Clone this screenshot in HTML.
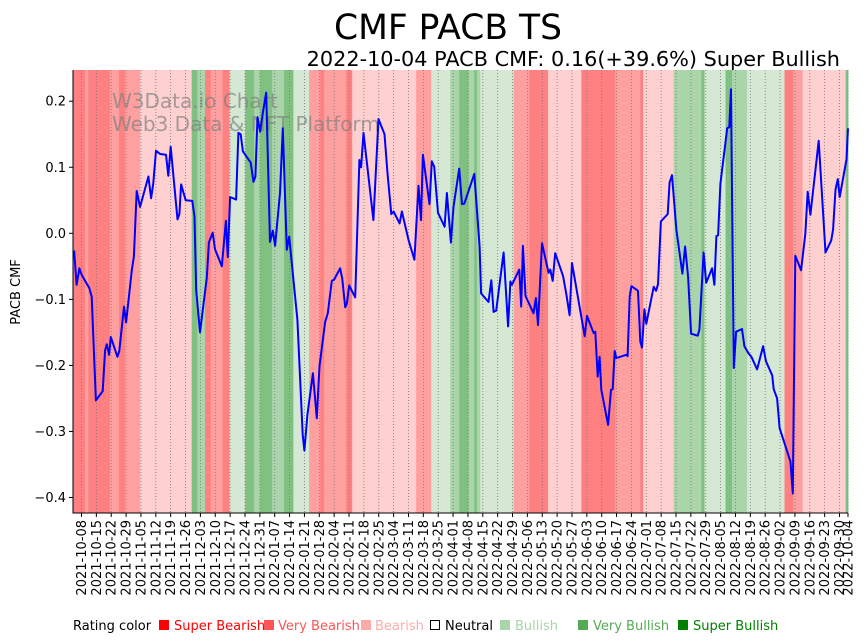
<!DOCTYPE html>
<html><head><meta charset="utf-8"><style>
body{margin:0;background:#fff;}
svg{display:block;font-family:"DejaVu Sans","Liberation Sans",sans-serif;}
</style></head><body>
<svg id="chart" width="867" height="641" viewBox="0 0 867 641">
<text x="448" y="39" font-size="34.5" text-anchor="middle">CMF PACB TS</text>
<text x="840" y="66" font-size="20.8" text-anchor="end">2022-10-04 PACB CMF: 0.16(+39.6%) Super Bullish</text>
<g id="bands"></g>
<g id="grid"></g>
<text x="112" y="108" font-size="20" fill="#808080" fill-opacity="0.7">W3Data.io Chart</text>
<text x="112" y="131" font-size="20" fill="#808080" fill-opacity="0.7">Web3 Data &amp; NFT Platform</text>
<path id="line" fill="none" stroke="#0000ff" stroke-width="2" stroke-linejoin="round"></path>
<g id="axes"></g>
<text transform="translate(20,292) rotate(-90)" font-size="13" text-anchor="middle">PACB CMF</text>
<g font-size="13">
<text x="73" y="630">Rating color</text>
<rect x="159" y="620" width="10" height="10" fill="#ff0000"/>
<text x="174" y="630" fill="#ff0000">Super Bearish</text>
<rect x="264" y="620" width="10" height="10" fill="#ff5555"/>
<text x="278" y="630" fill="#ff5555">Very Bearish</text>
<rect x="361" y="620" width="10" height="10" fill="#ffaaaa"/>
<text x="375" y="630" fill="#ffaaaa">Bearish</text>
<rect x="430.5" y="620.5" width="9" height="9" fill="#fff" stroke="#000"/>
<text x="445" y="630" fill="#000">Neutral</text>
<rect x="500" y="620" width="10" height="10" fill="#aad4aa"/>
<text x="515" y="630" fill="#aad4aa">Bullish</text>
<rect x="578" y="620" width="10" height="10" fill="#55aa55"/>
<text x="593" y="630" fill="#55aa55">Very Bullish</text>
<rect x="678" y="620" width="10" height="10" fill="#008000"/>
<text x="693" y="630" fill="#008000">Super Bullish</text>
</g>
</svg>
<script>
// days since 2021-10-04
const days = [0.5,1.7,3.0,4.1,7.7,8.8,10.8,14.0,15.1,15.9,17.0,17.8,20.9,21.8,24.0,25.0,27.7,28.7,30.0,31.6,35.5,36.8,37.8,39.1,41.0,43.8,44.9,46.0,49.2,50.1,50.9,53.1,56.2,57.2,58.0,59.8,63.0,64.0,65.8,66.9,70.1,72.0,72.9,74.0,76.8,77.9,79.0,80.0,83.7,85.0,85.9,86.9,88.1,89.4,91.0,92.8,94.1,95.2,97.5,98.8,100.7,101.8,105.7,108.2,109.0,110.4,113.0,114.8,116.1,118.8,120.0,121.9,123.0,125.8,126.8,128.2,129.0,130.1,132.9,134.9,135.7,136.8,141.5,143.9,146.7,148.1,149.9,151.0,153.8,154.9,158.0,160.8,162.7,163.9,164.8,167.9,169.0,170.1,171.9,175.0,176.1,178.0,179.2,181.9,183.2,184.3,189.0,191.5,192.2,195.7,197.0,198.1,199.3,202.8,204.9,206.0,206.7,210.2,211.1,211.9,213.1,216.9,218.0,219.0,220.9,224.0,224.8,225.9,227.1,230.8,232.3,233.9,235.0,241.0,242.1,245.2,246.0,247.1,248.0,248.8,252.0,253.4,254.2,255.1,255.9,260.6,261.2,262.2,263.0,266.1,267.2,268.0,269.1,270.0,273.5,274.6,275.5,276.9,280.1,281.0,282.1,284.2,287.0,288.3,289.7,291.1,294.2,295.0,297.0,298.2,301.0,302.1,303.0,303.8,304.9,308.1,309.1,309.9,311.2,312.3,315.1,316.2,318.2,319.5,322.2,325.0,326.4,329.3,330.0,331.6,332.8,337.9,339.0,340.2,342.9,344.9,346.0,347.3,351.2,354.4,357.1,358.0,359.1,360.2,361.1,364.3,365.0];
const cmf = [-0.026,-0.078,-0.053,-0.063,-0.083,-0.096,-0.253,-0.239,-0.177,-0.168,-0.184,-0.157,-0.187,-0.178,-0.111,-0.135,-0.056,-0.035,0.064,0.040,0.086,0.053,0.076,0.125,0.120,0.119,0.087,0.131,0.021,0.029,0.074,0.050,0.049,0.025,-0.086,-0.150,-0.067,-0.014,0.001,-0.024,-0.050,0.019,-0.036,0.055,0.051,0.152,0.150,0.124,0.107,0.078,0.086,0.176,0.154,0.182,0.213,-0.013,0.004,-0.019,0.061,0.159,-0.025,-0.005,-0.131,-0.305,-0.329,-0.275,-0.212,-0.280,-0.201,-0.134,-0.121,-0.072,-0.070,-0.053,-0.068,-0.112,-0.106,-0.079,-0.097,0.111,0.100,0.152,0.020,0.173,0.150,0.091,0.029,0.033,0.015,0.033,-0.010,-0.040,0.072,0.020,0.119,0.044,0.109,0.101,0.031,0.010,0.061,-0.014,0.040,0.098,0.044,0.045,0.090,-0.020,-0.091,-0.104,-0.071,-0.119,-0.117,-0.029,-0.141,-0.073,-0.078,-0.055,-0.111,-0.019,-0.095,-0.121,-0.098,-0.139,-0.015,-0.060,-0.055,-0.072,-0.030,-0.065,-0.091,-0.124,-0.045,-0.156,-0.125,-0.151,-0.149,-0.217,-0.187,-0.237,-0.290,-0.237,-0.236,-0.178,-0.189,-0.184,-0.186,-0.096,-0.080,-0.087,-0.164,-0.173,-0.115,-0.137,-0.081,-0.087,-0.077,0.018,0.029,0.077,0.088,0.005,-0.061,-0.020,-0.066,-0.152,-0.155,-0.146,-0.029,-0.075,-0.053,-0.078,-0.004,-0.003,0.075,0.159,0.161,0.218,-0.204,-0.149,-0.145,-0.171,-0.182,-0.187,-0.206,-0.171,-0.194,-0.215,-0.236,-0.250,-0.295,-0.346,-0.394,-0.034,-0.056,-0.001,0.063,0.028,0.140,-0.029,-0.011,0.006,0.066,0.082,0.055,0.112,0.159];
// rating bands: start day, end day, rating
const bandStart = [0,5.7,7.2,17.4,21.7,24.5,31.6,55.9,58.6,62.2,64.9,70.5,73.7,81.1,85.3,88.1,93.8,99.4,103.8,111.2,116.4,118.3,128.7,131.5,161.6,168.7,177.7,181.9,186.3,189.0,190.2,191.8,207.5,214.9,223.7,239.4,255.4,267.2,268.5,282.9,296.0,297.4,307.3,310.4,317.5,335.1,339.2,343.6,363.9];
const bandEnd = [5.7,7.2,17.4,21.7,24.5,31.6,55.9,58.6,62.2,64.9,70.5,73.7,81.1,85.3,88.1,93.8,99.4,103.8,111.2,116.4,118.3,128.7,131.5,161.6,168.7,177.7,181.9,186.3,189.0,190.2,191.8,207.5,214.9,223.7,239.4,255.4,267.2,268.5,282.9,296.0,297.4,307.3,310.4,317.5,335.1,339.2,343.6,363.9,365];
const bandRating = ["SBe","VBe","SBe","VBe","SBe","VBe","Be","SBu","VBu","SBe","VBe","SBe","Bu","SBu","VBu","SBu","VBu","SBu","Bu","VBe","SBe","VBe","SBe","Be","VBe","Bu","VBu","SBu","VBu","SBu","VBu","Bu","VBe","SBe","Be","SBe","VBe","SBe","Be","VBu","SBu","Bu","SBu","VBu","Bu","SBe","VBe","Be","SBu"];
const yTicks = [0.2,0.1,0.0,-0.1,-0.2,-0.3,-0.4];
const yTickLabels = ["0.2","0.1","0.0","\u22120.1","\u22120.2","\u22120.3","\u22120.4"];

const colors = {SBe:"#ff8080",VBe:"#ffa0a0",Be:"#ffd0d0",Bu:"#d5e8d4",VBu:"#aad4aa",SBu:"#80c080"};
const L=73,R=848,T=70,B=513, totalDays=365;
const xs = d => L + d*(R-L)/totalDays;
const ys = v => 233.3 - v*660.5;
const NS="http://www.w3.org/2000/svg";
const bands=document.getElementById('bands'), grid=document.getElementById('grid'), axes=document.getElementById('axes');
for(let i=0;i<bandStart.length;i++){
  const r=document.createElementNS(NS,'rect');
  
  
  r.setAttribute('x',xs(bandStart[i]));r.setAttribute('y',T);
  r.setAttribute('width',Math.max(0,xs(bandEnd[i])-xs(bandStart[i]))+0.4);r.setAttribute('height',B-T);
  r.setAttribute('fill',colors[bandRating[i]]);
  bands.appendChild(r);
}
// weekly date ticks
const start=Date.UTC(2021,9,4);
const tickDays=[];for(let d=4;d<=361;d+=7)tickDays.push(d);tickDays.push(365);
const fmt=d=>{const t=new Date(start+d*86400000);return t.toISOString().slice(0,10);};
tickDays.forEach(d=>{
  const x=xs(d);
  const g=document.createElementNS(NS,'line');
  
  
  g.setAttribute('x1',x);g.setAttribute('x2',x);g.setAttribute('y1',T);g.setAttribute('y2',B);
  g.setAttribute('stroke','#777');g.setAttribute('stroke-width','0.8');g.setAttribute('stroke-dasharray','1,2');
  grid.appendChild(g);
  const tk=document.createElementNS(NS,'line');
  
  
  tk.setAttribute('x1',x);tk.setAttribute('x2',x);tk.setAttribute('y1',B);tk.setAttribute('y2',B+4);tk.setAttribute('stroke','#000');
  axes.appendChild(tk);
  const tx=document.createElementNS(NS,'text');
  
  
  tx.setAttribute('transform',`translate(${x+4.5},${B+7}) rotate(-90)`);
  tx.setAttribute('text-anchor','end');tx.setAttribute('font-size','13');
  tx.textContent=fmt(d);
  axes.appendChild(tx);
});
yTicks.forEach((v,i)=>{
  const y=ys(v);
  const tk=document.createElementNS(NS,'line');
  
  
  tk.setAttribute('x1',L-4);tk.setAttribute('x2',L);tk.setAttribute('y1',y);tk.setAttribute('y2',y);tk.setAttribute('stroke','#000');
  axes.appendChild(tk);
  const tx=document.createElementNS(NS,'text');
  
  
  tx.setAttribute('x',L-7);tx.setAttribute('y',y+4.5);tx.setAttribute('text-anchor','end');tx.setAttribute('font-size','13');
  tx.textContent=yTickLabels[i];
  axes.appendChild(tx);
});
const frame=document.createElementNS(NS,'path');


frame.setAttribute('d',`M${L},${T}V${B}H${R}`);frame.setAttribute('stroke','#000');frame.setAttribute('fill','none');frame.setAttribute('stroke-width','1');
axes.appendChild(frame);
let d='';days.forEach((dd,i)=>{d+=(i?'L':'M')+xs(dd).toFixed(1)+','+ys(cmf[i]).toFixed(1);});
document.getElementById('line').setAttribute('d',d);
</script>
</body></html>
